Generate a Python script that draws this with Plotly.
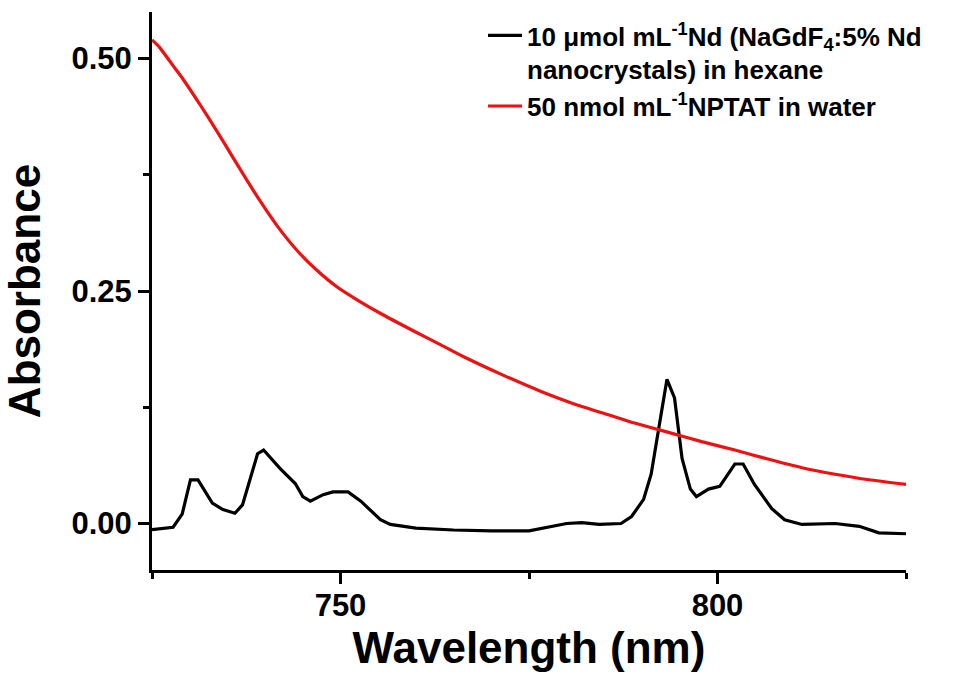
import plotly.graph_objects as go

# Black curve: NaGdF4:5% Nd nanocrystals in hexane
nd_wl = [725, 727.8, 729, 730.1, 731.1, 733, 734.4, 736, 737, 739, 739.8, 742, 744, 745, 746,
         747.7, 749, 751, 752.7, 755.3, 756.6, 760, 765, 770, 775, 777, 780, 782, 784.3, 787.2,
         788.6, 790.2, 791.2, 792.2, 793.3, 794.3, 795.3, 796.4, 797.2, 798.8, 800.3, 802.3,
         803.4, 804.9, 807.2, 808.9, 811.2, 815.6, 818.8, 821.4, 825]
nd_abs = [-0.0065, -0.004, 0.010, 0.047, 0.047, 0.022, 0.015, 0.011, 0.020, 0.075, 0.079, 0.059,
          0.043, 0.029, 0.024, 0.031, 0.034, 0.034, 0.024, 0.004, -0.001, -0.005, -0.007,
          -0.008, -0.008, -0.005, 0.0, 0.001, -0.001, 0.0, 0.0075, 0.026, 0.053, 0.102, 0.155,
          0.135, 0.070, 0.037, 0.029, 0.037, 0.040, 0.064, 0.064, 0.042, 0.016, 0.004, -0.001,
          0.0, -0.003, -0.010, -0.011]

# Red curve: NPTAT in water
np_wl = [725, 726, 728, 729.1, 731.4, 733.6, 735.4, 737.6, 739.4, 741.6, 744.3, 746.9, 749.6,
         752.3, 755.5, 759.7, 763.3, 766.4, 771.7, 776.6, 781.9, 785.5, 789, 793.5, 797.9,
         802.3, 806.8, 811.2, 815.6, 820.1, 825]
np_abs = [0.520, 0.512, 0.490, 0.478, 0.450, 0.422, 0.398, 0.369, 0.346, 0.320, 0.293, 0.272,
          0.254, 0.240, 0.225, 0.207, 0.192, 0.179, 0.159, 0.142, 0.126, 0.117, 0.108, 0.098,
          0.088, 0.079, 0.069, 0.060, 0.053, 0.047, 0.042]

nd_name = "10 \u03bcmol mL<sup>-1</sup>Nd (NaGdF<sub>4</sub>:5% Nd<br>nanocrystals) in hexane"
np_name = "50 nmol mL<sup>-1</sup>NPTAT in water"

fig = go.Figure()
fig.add_trace(go.Scatter(x=nd_wl, y=nd_abs, mode="lines", name=nd_name,
                         line=dict(color="black", width=3.2)))
fig.add_trace(go.Scatter(x=np_wl, y=np_abs, mode="lines", name=np_name,
                         line=dict(color="#ee1111", width=3.2, shape="spline", smoothing=0.5)))

font_family = "Liberation Sans, Arial, sans-serif"
fig.update_layout(
    width=954, height=678,
    margin=dict(l=152, r=48, t=12, b=108),
    paper_bgcolor="white", plot_bgcolor="white",
    font=dict(family=font_family, color="black"),
    showlegend=True,
    legend=dict(x=0.439, y=1.0, xanchor="left", yanchor="top", valign="top",
                itemwidth=34,
                bgcolor="rgba(0,0,0,0)", borderwidth=0,
                font=dict(size=26, family=font_family, color="black", weight="bold"),
                tracegroupgap=0),
    xaxis=dict(range=[725, 825], tickmode="linear", tick0=750, dtick=50,
               showline=True, linecolor="black", linewidth=3,
               ticks="outside", ticklen=11, tickwidth=3, tickcolor="black",
               minor=dict(ticks="outside", ticklen=6, tickwidth=3, tickcolor="black",
                          dtick=25, tick0=725, showgrid=False),
               showgrid=False, zeroline=False, ticklabelstandoff=-5,
               tickfont=dict(size=31, family=font_family, weight="bold"),
               title=dict(text="Wavelength (nm)", standoff=10,
                          font=dict(size=44, family=font_family, weight="bold"))),
    yaxis=dict(range=[-0.05, 0.55], tickmode="linear", tick0=0, dtick=0.25, tickformat=".2f",
               showline=True, linecolor="black", linewidth=3,
               ticks="outside", ticklen=11, tickwidth=3, tickcolor="black",
               minor=dict(ticks="outside", ticklen=6, tickwidth=3, tickcolor="black",
                          dtick=0.125, tick0=0, showgrid=False),
               showgrid=False, zeroline=False,
               tickfont=dict(size=31, family=font_family, weight="bold"),
               title=dict(text="Absorbance", standoff=18,
                          font=dict(size=44, family=font_family, weight="bold"))),
)

fig.write_html("out.html")
